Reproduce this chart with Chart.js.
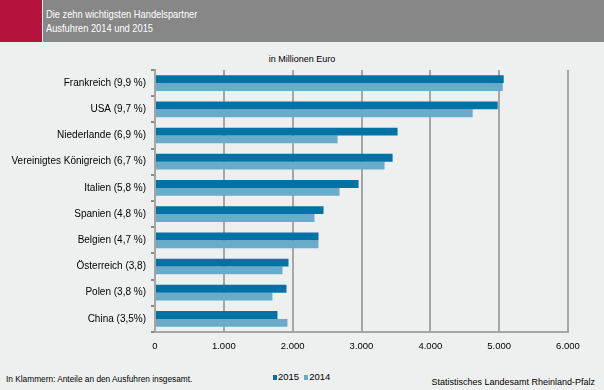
<!DOCTYPE html>
<html>
<head>
<meta charset="utf-8">
<script src="https://cdn.jsdelivr.net/npm/chart.js@4"></script>
<style>
  html, body { margin:0; padding:0; }
  body { width:604px; height:390px; background:#eef0ef; position:relative; overflow:hidden; font-family:"Liberation Sans", Arial, sans-serif; }
  #red { position:absolute; left:0; top:0; width:42px; height:42px; background:#b5123e; }
  #head { position:absolute; left:43px; top:0; width:561px; height:42px; background:#878787; }
  #title { position:absolute; left:46px; top:7px; color:#fff; font-size:11px; line-height:14px; transform:scaleX(0.845); transform-origin:0 0; white-space:nowrap; }
  #unit { position:absolute; left:0; width:604px; top:54px; text-align:center; font-size:9px; color:#000; }
  #note { position:absolute; left:6px; top:374px; font-size:8.3px; color:#000; }
  #src { position:absolute; right:9px; top:377px; font-size:9px; color:#000; }
  #legend { position:absolute; left:273px; top:371px; font-size:9.5px; color:#000; white-space:nowrap; }
  #legend span.box { display:inline-block; width:4px; height:5px; margin-right:1px; vertical-align:0px; }
  #legend span.item { margin-right:5px; }
  #wrap { position:absolute; left:0; top:42px; width:604px; height:348px; }
</style>
</head>
<body>
<div id="red"></div>
<div id="head"></div>
<div id="title">Die zehn wichtigsten Handelspartner<br>Ausfuhren 2014 und 2015</div>
<div id="unit">in Millionen Euro</div>
<div id="note">In Klammern: Anteile an den Ausfuhren insgesamt.</div>
<div id="legend"></div>
<div id="src">Statistisches Landesamt Rheinland-Pfalz</div>
<div id="wrap"><canvas id="c" width="604" height="348"></canvas></div>
<script>
const categories = ["Frankreich (9,9 %)", "USA (9,7 %)", "Niederlande (6,9 %)", "Vereinigtes Königreich (6,7 %)", "Italien (5,8 %)", "Spanien (4,8 %)", "Belgien (4,7 %)", "Österreich (3,8)", "Polen (3,8 %)", "China (3,5%)"];
const values2015 = [5066, 4979, 3524, 3452, 2957, 2448, 2375, 1939, 1910, 1779];
const values2014 = [5052, 4615, 2652, 3335, 2681, 2317, 2375, 1852, 1706, 1924];
const seriesNames = ["2015", "2014"];
const seriesColors = ["#0072a4", "#68acca"];
const xTicks = [0, 1000, 2000, 3000, 4000, 5000, 6000];

const fmt = v => v === 0 ? "0" : v.toLocaleString("de-DE");

document.getElementById("legend").innerHTML = seriesNames.map((n, i) =>
  '<span class="item"><span class="box" style="background:' + seriesColors[i] + '"></span>' + n + '</span>').join("");

new Chart(document.getElementById("c"), {
  type: "bar",
  data: {
    labels: categories,
    datasets: [
      { label: seriesNames[0], data: values2015, backgroundColor: seriesColors[0], categoryPercentage: 0.6, barPercentage: 1.0 },
      { label: seriesNames[1], data: values2014, backgroundColor: seriesColors[1], categoryPercentage: 0.6, barPercentage: 1.0 }
    ]
  },
  options: {
    indexAxis: "y",
    responsive: false,
    animation: false,
    layout: { padding: { top: 28, right: 36, left: 0, bottom: 28 } },
    plugins: {
      tooltip: { enabled: false },
      legend: { display: false }
    },
    scales: {
      x: {
        min: 0, max: 6000,
        afterBuildTicks: s => { s.ticks = xTicks.map(v => ({ value: v })); },
        afterFit: s => { s.height = 30; },
        grid: { color: "#a6a6a6", lineWidth: 2, drawTicks: false },
        border: { color: "#a6a6a6", width: 2 },
        ticks: { padding: 9, color: "#000", font: { family: "Liberation Sans", size: 9.5 }, callback: v => fmt(v) }
      },
      y: {
        afterFit: s => { s.width = 155; },
        grid: { drawOnChartArea: false, drawTicks: true, tickLength: 4, color: "#888", lineWidth: 2 },
        border: { color: "#a6a6a6", width: 2 },
        ticks: { padding: 5, color: "#000", font: { family: "Liberation Sans", size: 10 } }
      }
    }
  }
});
</script>
</body>
</html>
